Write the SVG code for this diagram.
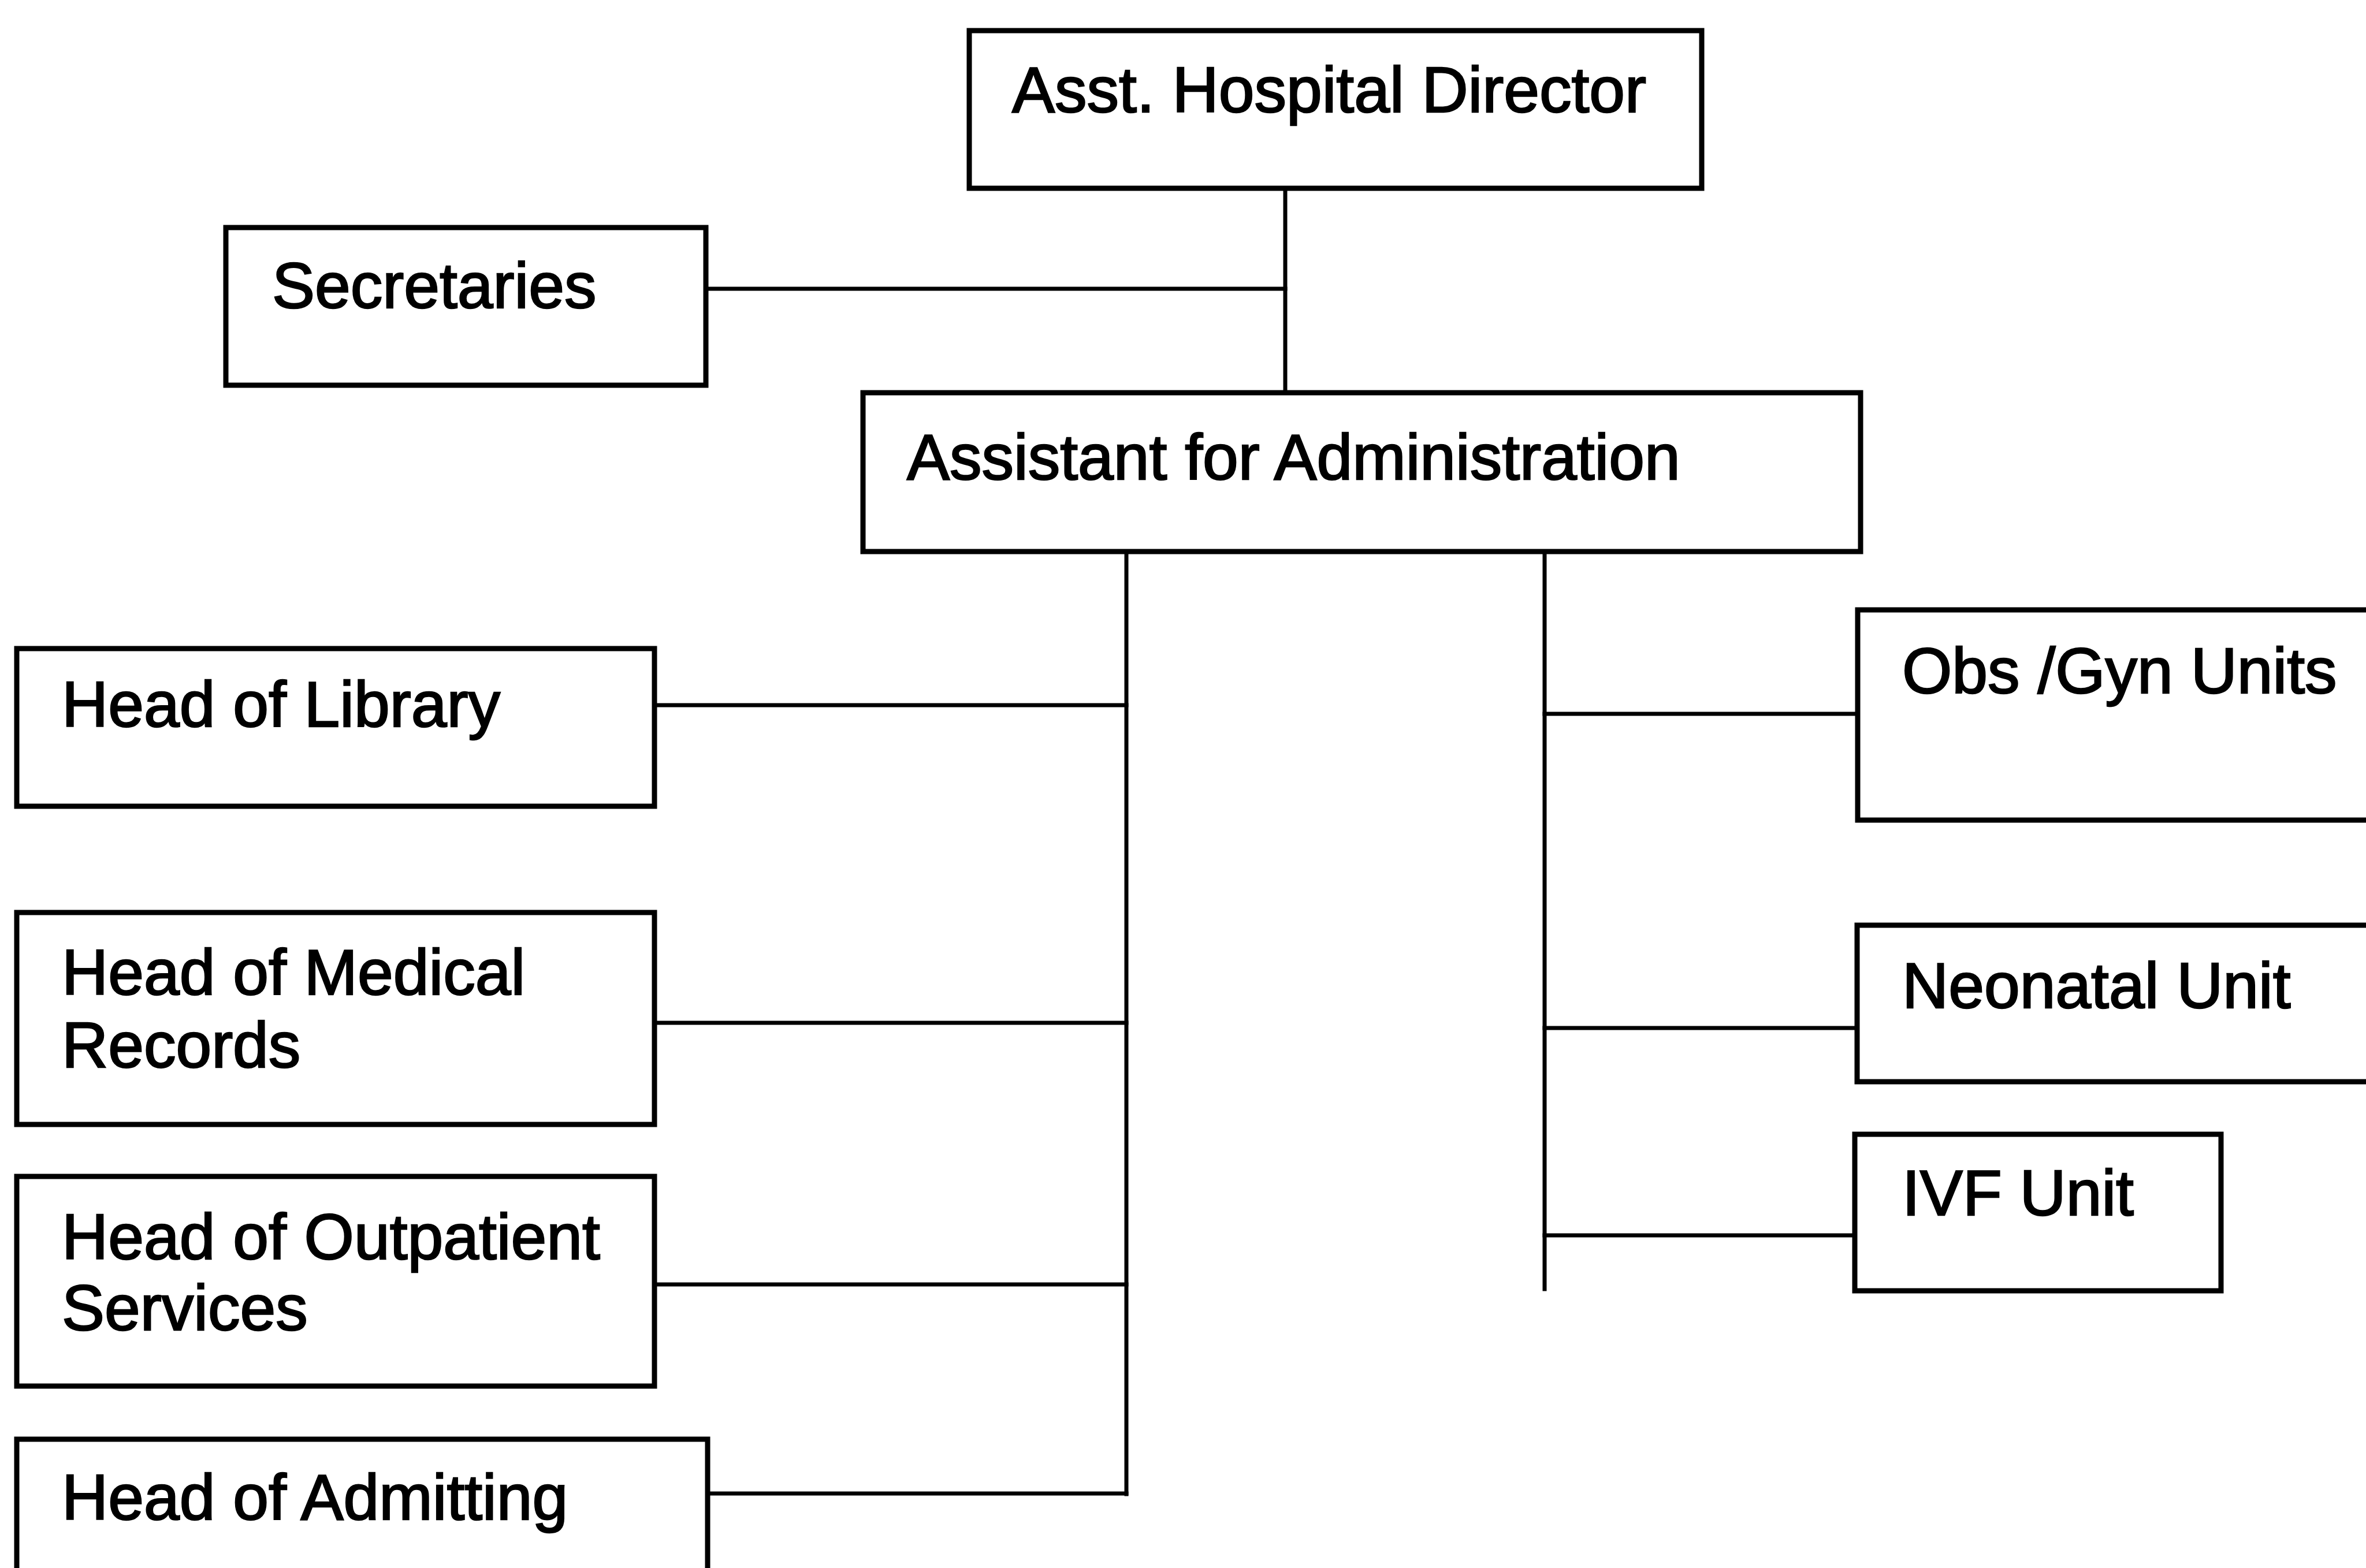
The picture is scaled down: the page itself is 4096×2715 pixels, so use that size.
<svg xmlns="http://www.w3.org/2000/svg" width="4096" height="2715" viewBox="0 0 4096 2715">
<style>
.box{fill:#fff;stroke:#000;stroke-width:9}
.lbl{font-family:"Liberation Sans",Arial,sans-serif;font-size:111px;fill:#000;stroke:#000;stroke-width:2.5}
.conn line{stroke:#000;stroke-width:7;stroke-linecap:square}
</style>
<rect x="0" y="0" width="4096" height="2715" fill="#fff"/>
<g class="conn" id="connectors">
<line x1="2225" y1="326" x2="2225" y2="680"/>
<line x1="1222" y1="500" x2="2225" y2="500"/>
<line x1="1950" y1="955" x2="1950" y2="2587"/>
<line x1="1133" y1="1221" x2="1950" y2="1221"/>
<line x1="1133" y1="1771" x2="1950" y2="1771"/>
<line x1="1133" y1="2224" x2="1950" y2="2224"/>
<line x1="1225" y1="2586" x2="1950" y2="2586"/>
<line x1="2674" y1="958" x2="2674" y2="2232"/>
<line x1="2674" y1="1236" x2="3216" y2="1236"/>
<line x1="2674" y1="1780" x2="3215" y2="1780"/>
<line x1="2674" y1="2139" x2="3211" y2="2139"/>
</g>
<g id="asst-hospital-director">
<rect class="box" x="1678" y="53" width="1268" height="273"/>
<text class="lbl" x="1752" y="194">Asst. Hospital Director</text>
</g>
<g id="secretaries">
<rect class="box" x="391" y="394" width="831" height="273"/>
<text class="lbl" x="471" y="533">Secretaries</text>
</g>
<g id="assistant-admin">
<rect class="box" x="1494" y="680" width="1727" height="275"/>
<text class="lbl" x="1570" y="830">Assistant for Administration</text>
</g>
<g id="head-library">
<rect class="box" x="29" y="1123" width="1104" height="273"/>
<text class="lbl" x="107" y="1258">Head of Library</text>
</g>
<g id="head-medical-records">
<rect class="box" x="29" y="1580" width="1104" height="367"/>
<text class="lbl" x="107" y="1722">Head of Medical</text>
<text class="lbl" x="107" y="1848">Records</text>
</g>
<g id="head-outpatient">
<rect class="box" x="29" y="2037" width="1104" height="363"/>
<text class="lbl" x="107" y="2180">Head of Outpatient</text>
<text class="lbl" x="107" y="2303">Services</text>
</g>
<g id="head-admitting">
<rect class="box" x="29" y="2492" width="1196" height="260"/>
<text class="lbl" x="107" y="2631">Head of Admitting</text>
</g>
<g id="obs-gyn">
<rect class="box" x="3216" y="1056" width="920" height="364"/>
<text class="lbl" x="3293" y="1200">Obs /Gyn Units</text>
</g>
<g id="neonatal">
<rect class="box" x="3215" y="1602" width="920" height="271"/>
<text class="lbl" x="3293" y="1745">Neonatal Unit</text>
</g>
<g id="ivf">
<rect class="box" x="3211" y="1964" width="634" height="271"/>
<text class="lbl" x="3293" y="2104">IVF Unit</text>
</g>
</svg>
